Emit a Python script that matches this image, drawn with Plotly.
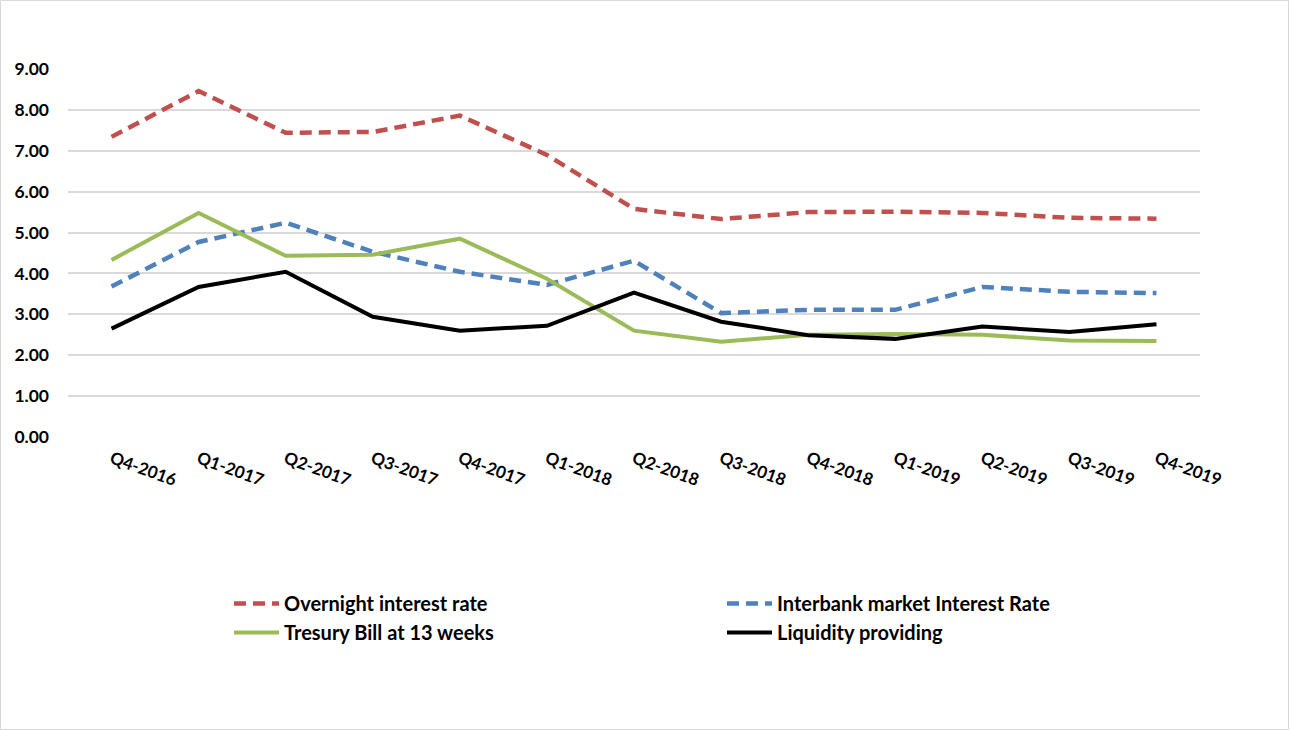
import plotly.graph_objects as go

quarters = ["Q4-2016", "Q1-2017", "Q2-2017", "Q3-2017", "Q4-2017", "Q1-2018", "Q2-2018",
            "Q3-2018", "Q4-2018", "Q1-2019", "Q2-2019", "Q3-2019", "Q4-2019"]
overnight = [7.34, 8.46, 7.44, 7.46, 7.86, 6.90, 5.58, 5.33, 5.50, 5.51, 5.48, 5.36, 5.34]
interbank = [3.68, 4.77, 5.24, 4.53, 4.04, 3.72, 4.31, 3.03, 3.11, 3.11, 3.67, 3.55, 3.52]
tbill = [4.33, 5.48, 4.43, 4.46, 4.85, 3.87, 2.60, 2.33, 2.50, 2.52, 2.50, 2.36, 2.35]
liquidity = [2.65, 3.67, 4.04, 2.94, 2.60, 2.72, 3.53, 2.82, 2.49, 2.40, 2.70, 2.57, 2.76]

W, H = 1290, 731
L, R, T, B = 68, 90, 69, 294

fig = go.Figure()
fig.add_trace(go.Scatter(x=quarters, y=overnight, mode="lines", name="Overnight interest rate",
                         line=dict(color="#C0504D", width=4.5, dash="12px,7px")))
fig.add_trace(go.Scatter(x=quarters, y=interbank, mode="lines", name="Interbank market Interest Rate",
                         line=dict(color="#4F81BD", width=4.5, dash="12px,7px")))
fig.add_trace(go.Scatter(x=quarters, y=tbill, mode="lines", name="Tresury Bill at 13 weeks",
                         line=dict(color="#9BBB59", width=4)))
fig.add_trace(go.Scatter(x=quarters, y=liquidity, mode="lines", name="Liquidity providing",
                         line=dict(color="#000000", width=4)))

pw, ph = W - L - R, H - T - B
fig.update_layout(
    width=W, height=H,
    margin=dict(l=L, r=R, t=T, b=B),
    paper_bgcolor="white", plot_bgcolor="white",
    font=dict(family="Lato, Open Sans, sans-serif", color="black"),
    xaxis=dict(type="category", tickangle=20, showgrid=False, showline=False, zeroline=False,
               tickfont=dict(size=17, family="Lato", weight="bold"), ticks="",
               ticklabelstandoff=8, range=[-0.5, len(quarters) - 0.5]),
    yaxis=dict(range=[0, 9], dtick=1, tickformat=".2f", showgrid=True, gridcolor="#D9D9D9",
               gridwidth=1.5, zeroline=False, showline=False, ticks="", ticklabelstandoff=18,
               tickfont=dict(size=17.5, family="Lato", weight="bold")),
    legend=dict(orientation="h", xref="container", yref="container",
                x=229 / W, y=1 - 584 / H, xanchor="left", yanchor="top",
                entrywidth=433, entrywidthmode="pixels", traceorder="normal",
                font=dict(size=20, family="Lato", weight="bold"), itemwidth=45,
                bgcolor="rgba(0,0,0,0)", tracegroupgap=0),
    showlegend=True,
    shapes=[dict(type="rect", xref="paper", yref="paper",
                 x0=(-L + 0.5) / pw, x1=1 + (R - 1.5) / pw,
                 y0=-(B - 1.5) / ph, y1=1 + (T - 0.5) / ph,
                 line=dict(color="#D9D9D9", width=1), fillcolor="rgba(0,0,0,0)", layer="below")],
)

fig.write_html("out.html")
